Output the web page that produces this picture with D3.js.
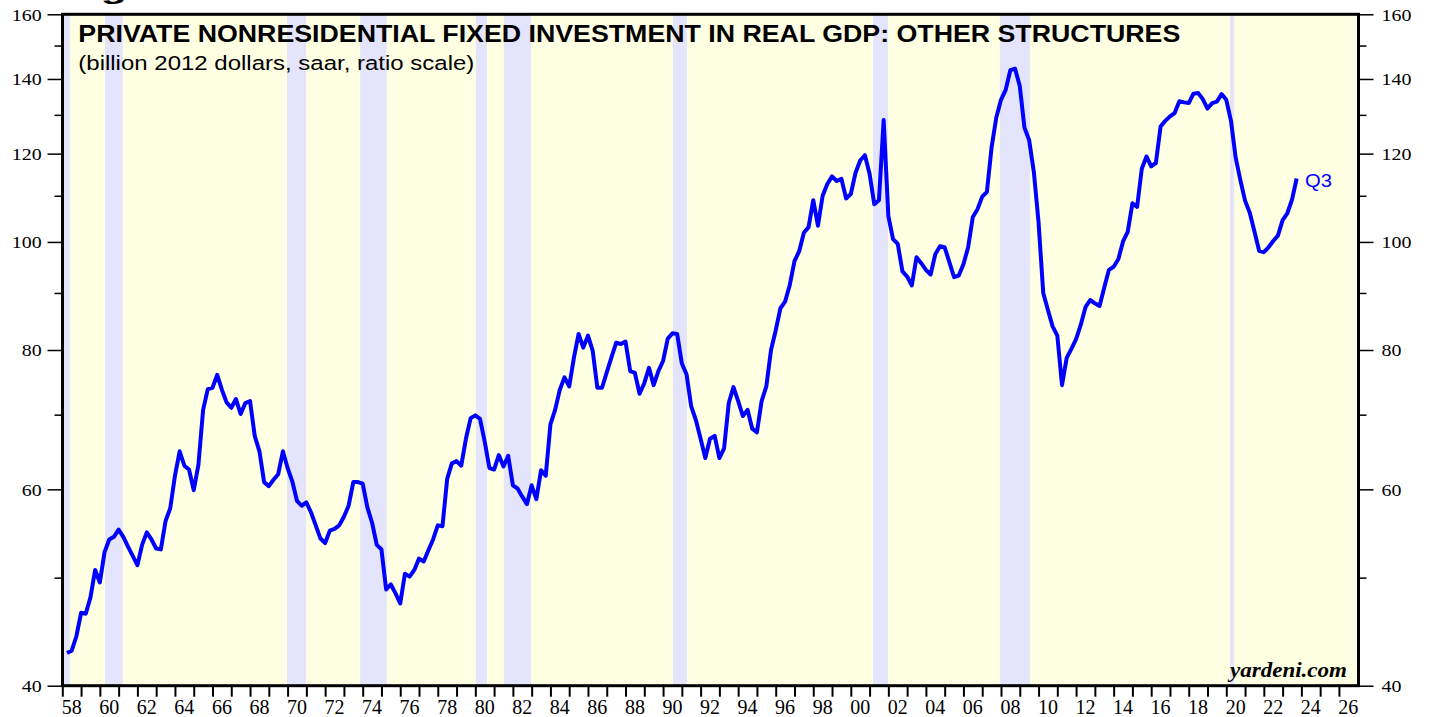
<!DOCTYPE html>
<html>
<head>
<meta charset="utf-8">
<script src="https://cdn.jsdelivr.net/npm/d3@7/dist/d3.min.js"></script>
<style>
  body { margin: 0; background: #fff; }
  svg { display: block; }
</style>
</head>
<body>
<div id="chart"></div>
<script>
// Quarterly values, billion 2012 dollars, starting 1958Q1
const FIRST_YEAR = 1958;
const q1958_1969 = [
  42.8, 43.0, 44.3, 46.5,  46.4, 48.0, 50.8, 49.5,  52.7, 54.1, 54.4, 55.2,
  54.4, 53.3, 52.3, 51.3,  53.5, 54.9, 54.1, 53.1,  53.0, 56.2, 57.7, 61.7,
  64.9, 63.0, 62.5, 59.9,  63.1, 70.7, 73.8, 74.0,  76.0, 73.7, 71.8, 71.0,
  72.3, 70.1, 71.7, 72.0,  67.0, 64.9, 60.9, 60.4,  61.2, 61.9, 64.9, 62.7
];
const q1970_1979 = [
  61.0, 58.6, 58.0, 58.4,  57.2, 55.7, 54.2, 53.7,  55.1, 55.3, 55.7, 56.7,
  58.0, 60.9, 60.9, 60.7,  57.8, 56.0, 53.5, 53.0,  48.8, 49.3, 48.4, 47.4,
  50.4, 50.1, 50.8, 52.0,  51.7, 52.9, 54.1, 55.7,  55.6, 61.3, 63.3, 63.6,
  63.0, 66.6, 69.5, 69.9
];
const q1980_1989 = [
  69.4, 66.2, 62.7, 62.5,  64.4, 62.9, 64.3, 60.5,  60.1, 59.1, 58.2, 60.5,
  58.8, 62.4, 61.7, 68.6,  70.7, 73.7, 75.6, 74.2,  78.7, 82.7, 80.4, 82.4,
  79.9, 74.0, 74.0, 76.4,  78.8, 81.2, 81.0, 81.4,  76.6, 76.3, 73.1, 74.7,
  77.1, 74.4, 76.6, 78.2
];
const q1990_1999 = [
  81.9, 82.8, 82.7, 77.8,  76.1, 71.2, 69.2, 66.6,  64.0, 66.6, 67.0, 64.0,
  65.3, 71.7, 74.1, 72.0,  69.8, 70.7, 68.0, 67.5,  72.0, 74.2, 80.0, 83.3,
  87.2, 88.4, 91.5, 96.1,  98.1, 101.9, 103.1, 109.0,  103.4, 110.0, 112.7, 114.5,
  113.4, 113.9, 109.4, 110.4
];
const q2000_2009 = [
  115.3, 118.3, 119.6, 115.1,  108.1, 109.0, 128.6, 105.5,  100.6, 99.6, 94.1, 93.1,
  91.4, 96.9, 95.7, 94.4,  93.5, 97.5, 99.1, 98.9,  95.9, 93.0, 93.3, 95.5,
  98.9, 105.3, 107.0, 109.8,  110.9, 121.6, 129.3, 134.1,  136.9, 142.6, 143.0, 138.0,
  126.6, 123.4, 115.5, 104.2
];
const q2010_2023 = [
  90.0, 86.9, 84.0, 82.4,  74.4, 78.7, 80.2, 81.8,  84.3, 87.4, 88.7, 88.1,
  87.6, 91.0, 94.4, 95.0,  96.5, 100.1, 102.1, 108.3,  107.5, 116.3, 119.3, 116.9,
  117.7, 126.9, 128.4, 129.6,  130.5, 133.7, 133.4, 133.2,  135.8, 136.0, 134.3, 131.7,
  133.2, 133.6, 135.7, 134.1,  128.4, 119.0, 113.6, 108.9,  106.2, 102.2, 98.2, 97.9,
  98.9, 100.2, 101.3, 104.6,  106.1, 109.1, 114.0
];

// Recessions (decimal years)
const recStart = [1957.6, 1960.27, 1969.97, 1973.87, 1980.03, 1981.52, 1990.52, 2001.18, 2007.94, 2020.2];
const recEnd   = [1958.4, 1961.22, 1970.98, 1975.28, 1980.62, 1982.96, 1991.27, 2001.98, 2009.54, 2020.42];

// Axis ticks
const yMajor = [40, 60, 80, 100, 120, 140, 160];
const yMinor = [50, 70, 90, 110, 130, 150];
const xYears = d3.range(1958, 2027);
const xLabelYears = d3.range(1958, 2027, 2);

const values = [].concat(q1958_1969, q1970_1979, q1980_1989, q1990_1999, q2000_2009, q2010_2023);

const W = 1429, H = 717;
const L = 62.5, R = 1358.5, T = 14.3, B = 685.7;

const svg = d3.select("#chart").append("svg")
  .attr("width", W)
  .attr("height", H);

var x = d3.scaleLinear().domain([1958, 2027]).range([62.3, 1357.7]);
var y = d3.scaleLog().domain([40, 160]).range([B, T]);

svg.append("defs").append("clipPath").attr("id", "plotclip")
  .append("rect").attr("x", L).attr("y", T).attr("width", R - L).attr("height", B - T);

// background
svg.append("rect")
  .attr("x", L).attr("y", T).attr("width", R - L).attr("height", B - T)
  .attr("fill", "#ffffe3");

var plot = svg.append("g").attr("clip-path", "url(#plotclip)");

plot.selectAll("rect.rec")
  .data(recStart)
  .enter().append("rect")
  .attr("class", "rec")
  .attr("x", function(d) { return x(d); })
  .attr("y", T)
  .attr("width", function(d, i) { return x(recEnd[i]) - x(d); })
  .attr("height", B - T)
  .attr("fill", "#e4e4fc");

// the series
var line = d3.line()
  .x(function(d, i) { return x(FIRST_YEAR + (i + 1) / 4); })
  .y(function(d) { return y(d); });

plot.append("path")
  .datum(values)
  .attr("d", line)
  .attr("fill", "none")
  .attr("stroke", "#0000ff")
  .attr("stroke-width", 4)
  .attr("stroke-linejoin", "round");

// frame
svg.append("rect")
  .attr("x", L).attr("y", T).attr("width", R - L).attr("height", B - T)
  .attr("fill", "none")
  .attr("stroke", "#000")
  .attr("stroke-width", 3);

// y ticks, both sides
function yTicks(axisFn, xpos, vals, size) {
  var g = svg.append("g")
    .attr("transform", "translate(" + xpos + ",0)")
    .call(axisFn(y).tickValues(vals).tickSize(size).tickFormat(""));
  g.select(".domain").remove();
  g.selectAll("line").attr("stroke", "#000").attr("stroke-width", 1.5);
}
yTicks(d3.axisLeft, L, yMajor, 15);
yTicks(d3.axisLeft, L, yMinor, 8);
yTicks(d3.axisRight, R, yMajor, 15);
yTicks(d3.axisRight, R, yMinor, 8);

// x ticks
var gx = svg.append("g")
  .attr("transform", "translate(0," + B + ")")
  .call(d3.axisBottom(x).tickValues(xYears).tickSize(11).tickFormat(""));
gx.select(".domain").remove();
gx.selectAll("line").attr("stroke", "#000").attr("stroke-width", 2);

// tick labels (the picture's text is slightly wide)
var serif = "'Liberation Serif', 'Times New Roman', serif";
function label(px, py, txt, anchor, size, sx) {
  return svg.append("text")
    .attr("transform", "translate(" + px + "," + py + ") scale(" + sx + ",1)")
    .attr("text-anchor", anchor)
    .attr("font-family", serif)
    .attr("font-size", size)
    .attr("fill", "#000")
    .text(txt);
}
yMajor.forEach(function(v) {
  label(41.7, y(v) + 6.2, v, "end", 17.5, 1.14);
  label(1381.5, y(v) + 6.2, v, "start", 17.5, 1.14);
});
xLabelYears.forEach(function(yr) {
  label(x(yr + 0.5), 714, String(yr).slice(2), "middle", 20, 1);
});

// titles
var sans = "'Liberation Sans', Arial, Helvetica, sans-serif";
svg.append("text")
  .attr("x", 63).attr("y", -1.5)
  .attr("font-family", sans).attr("font-weight", "bold").attr("font-size", 23)
  .attr("textLength", 130).attr("lengthAdjust", "spacingAndGlyphs")
  .text("Figure");

svg.append("text")
  .attr("x", 78.3).attr("y", 41.7)
  .attr("font-family", sans).attr("font-weight", "bold").attr("font-size", 23)
  .attr("textLength", 1102).attr("lengthAdjust", "spacingAndGlyphs")
  .text("PRIVATE NONRESIDENTIAL FIXED INVESTMENT IN REAL GDP: OTHER STRUCTURES");

svg.append("text")
  .attr("x", 78.3).attr("y", 70)
  .attr("font-family", sans).attr("font-size", 20.5)
  .attr("textLength", 396).attr("lengthAdjust", "spacingAndGlyphs")
  .text("(billion 2012 dollars, saar, ratio scale)");

svg.append("text")
  .attr("x", 1305).attr("y", 187)
  .attr("font-family", sans).attr("font-size", 19)
  .attr("fill", "#0000ff")
  .attr("textLength", 27).attr("lengthAdjust", "spacingAndGlyphs")
  .text("Q3");

svg.append("text")
  .attr("x", 1347).attr("y", 677)
  .attr("text-anchor", "end")
  .attr("font-family", serif).attr("font-weight", "bold").attr("font-style", "italic")
  .attr("font-size", 20)
  .attr("textLength", 117).attr("lengthAdjust", "spacingAndGlyphs")
  .text("yardeni.com");
</script>
</body>
</html>
